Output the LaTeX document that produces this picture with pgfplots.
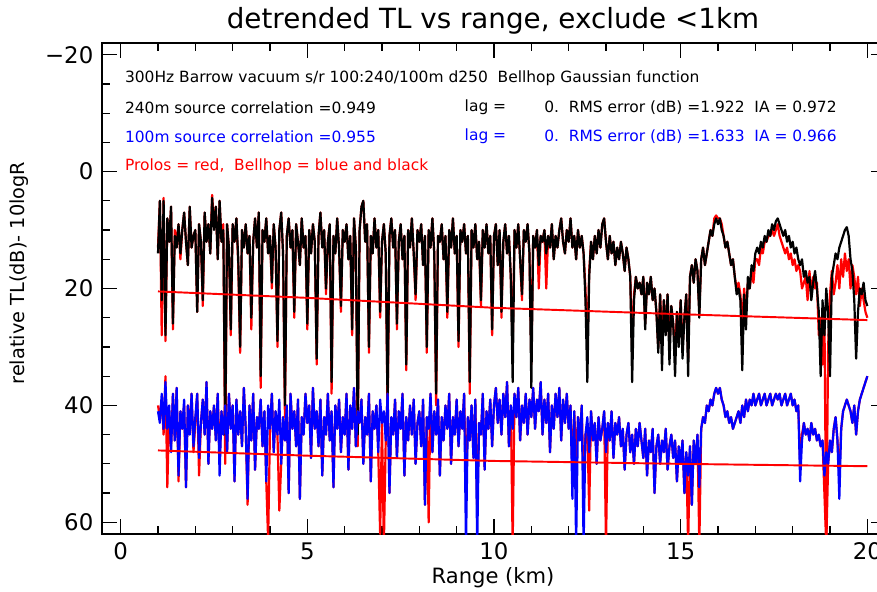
\documentclass[border=0pt]{standalone}
\usepackage{pgfplots}
\usepackage{pgfplotstable}
\pgfplotsset{compat=1.18}
\usepackage{fontspec}
\setmainfont{DejaVu Sans}
\definecolor{pblue}{RGB}{0,0,255}
\definecolor{pred}{RGB}{255,0,0}
\pgfplotstableread{
x B P L Q
1.00 14 13 41 40
1.05 5 5 43 42
1.10 22 28 38 39
1.15 5 4.5 44 45
1.20 28 29 36 35
1.25 8 8 44 54
1.30 12 12 40 41
1.35 6 6 48 47
1.40 26 27 38 38
1.45 11 10 46 46
1.50 13 12 37 37
1.55 9 9 52 53
1.60 14 15 41 41
1.65 10 10 44 44
1.70 7 7 39 40
1.75 12 12 54 54
1.80 16 16 40 40
1.85 6 6 45 44
1.90 13 13 38 38
1.95 11 11 47 48
2.00 10 10 42 43
2.05 24 24 38 38
2.10 9 9 49 52
2.15 12 12 43 43
2.20 22 23 39 39
2.25 7 7 45 45
2.30 12 12 36 36
2.35 9 9 50 50
2.40 14 14 41 41
2.45 4.5 4 44 44
2.50 10 9 40 40
2.55 6 6 46 46
2.60 15 15 38 38
2.65 5 5 52 50
2.70 12 12 41 41
2.75 10 9 45 45
2.80 45 50 40 40
2.85 9 9 48 48
2.90 13 13 38 38
2.95 27 28 44 44
3.00 9 9 40 40
3.05 12 12 53 53
3.10 8 8 39 39
3.15 15 16 45 45
3.20 30 31 41 41
3.25 10 10 47 47
3.30 13 13 37 37
3.35 9 9 44 44
3.40 14 14 56 57
3.45 11 11 40 40
3.50 25 27 46 46
3.55 12 12 38 38
3.60 8 8 51 51
3.65 13 13 42 42
3.70 7 7 44 44
3.75 35 37 39 39
3.80 10 10 47 47
3.85 12 12 41 41
3.90 8 8 53 53
3.95 14 14 40 63
4.00 11 11 44 44
4.05 19 20 38 38
4.10 9 9 48 48
4.15 13 13 41 41
4.20 29 30 45 45
4.25 10 10 39 58
4.30 7 7 50 50
4.35 14 14 42 42
4.40 40 42 46 46
4.45 11 11 40 40
4.50 8 8 55 55
4.55 13 13 38 38
4.60 10 10 44 44
4.65 24 25 41 41
4.70 9 9 47 47
4.75 12 12 39 39
4.80 16 16 56 56
4.85 8 8 42 42
4.90 13 13 45 45
4.95 11 11 38 38
5.00 26 27 43 43
5.05 10 10 40 40
5.10 14 14 49 49
5.15 9 9 37 37
5.20 12 12 44 44
5.25 32 33 41 41
5.30 11 11 47 47
5.35 7 7 39 39
5.40 13 13 52 52
5.45 10 10 42 42
5.50 20 21 45 45
5.55 12 12 38 38
5.60 9 9 46 46
5.65 36 38 41 41
5.70 11 11 54 54
5.75 14 14 40 40
5.80 8 8 44 44
5.85 13 13 39 39
5.90 23 24 48 48
5.95 10 10 42 42
6.00 12 12 45 45
6.05 9 9 38 38
6.10 15 15 51 51
6.15 11 11 40 40
6.20 27 28 44 44
6.25 8 8 37 37
6.30 13 13 47 47
6.35 45 47 41 41
6.40 10 10 43 43
6.45 6 6 39 39
6.50 5 5 50 50
6.55 12 12 42 42
6.60 9 9 45 45
6.65 30 31 38 38
6.70 11 11 53 53
6.75 14 14 41 41
6.80 8 8 44 44
6.85 13 13 40 40
6.90 10 10 48 48
6.95 24 25 39 62
7.00 12 12 43 43
7.05 9 9 41 64
7.10 14 14 46 46
7.15 40 42 38 38
7.20 11 11 55 55
7.25 8 8 42 42
7.30 13 13 45 45
7.35 10 10 39 39
7.40 26 27 49 49
7.45 12 12 41 41
7.50 9 9 44 44
7.55 15 15 38 38
7.60 11 11 52 52
7.65 33 34 42 42
7.70 10 10 46 46
7.75 13 13 40 40
7.80 8 8 45 45
7.85 14 14 39 39
7.90 21 22 50 50
7.95 10 10 43 43
8.00 12 12 41 41
8.05 9 9 47 47
8.10 16 16 39 39
8.15 11 11 57 57
8.20 30 31 42 42
8.25 10 10 44 60
8.30 13 13 38 38
8.35 8 8 48 48
8.40 14 14 41 41
8.45 38 40 45 45
8.50 11 11 39 39
8.55 12 12 52 52
8.60 9 9 42 42
8.65 15 15 46 46
8.70 11 11 40 40
8.75 24 25 44 44
8.80 10 10 38 38
8.85 13 13 50 50
8.90 8 8 42 42
8.95 14 14 45 45
9.00 11 11 39 39
9.05 29 30 47 47
9.10 10 10 41 41
9.15 12 12 44 44
9.20 9 9 38 38
9.25 14 14 64 55
9.30 11 11 42 42
9.35 36 38 46 46
9.40 10 10 40 40
9.45 13 13 49 49
9.50 9 9 39 39
9.55 15 15 64 58
9.60 12 12 43 43
9.65 22 23 45 45
9.70 10 10 38 38
9.75 13 13 51 51
9.80 9 9 41 41
9.85 14 14 44 44
9.90 11 11 39 39
9.95 27 28 47 47
10.00 11 11 40 40
10.05 9 9 37 37
10.10 16 16 43 43
10.15 10 10 39 39
10.20 24 25 45 45
10.25 12 12 38 38
10.30 9 9 42 42
10.35 14 14 36 36
10.40 11 11 47 47
10.45 18 18 40 40
10.50 36 30 44 64
10.55 10 10 38 38
10.60 13 13 42 42
10.65 9 9 37 37
10.70 15 15 46 46
10.75 21 22 40 40
10.80 10 10 43 43
10.85 12 12 38 38
10.90 9 9 45 45
10.95 14 14 39 39
11.00 37 33 42 42
11.05 11 11 37 37
11.10 13 13 44 44
11.15 10 10 39 39
11.20 16 20 41 41
11.25 11 11 36 36
11.30 12 12 45 45
11.35 10 10 39 39
11.40 14 20 43 43
11.45 11 11 38 38
11.50 13 13 48 48
11.55 9 9 40 40
11.60 15 15 44 44
11.65 11 11 38 38
11.70 13 13 42 42
11.75 10 10 37 37
11.80 8 8 46 46
11.85 12 12 39 39
11.90 14 14 43 43
11.95 10 10 38 38
12.00 12 12 44 44
12.05 8 8 40 40
12.10 13 13 56 52
12.15 11 11 41 41
12.20 15 15 64 50
12.25 10 10 42 42
12.30 13 13 46 46
12.35 11 11 40 40
12.40 14 14 64 54
12.45 22 20 45 45
12.50 36 30 42 44
12.55 18 17 48 58
12.60 12 12 41 41
12.65 15 15 46 46
12.70 11 11 43 43
12.75 14 14 50 50
12.80 10 10 42 42
12.85 13 13 46 46
12.90 9 9 44 44
12.95 8 8 41 41
13.00 12 12 48 64
13.05 15 15 43 43
13.10 11 11 46 46
13.15 14 14 41 41
13.20 12 12 49 49
13.25 16 16 43 43
13.30 13 13 45 45
13.35 15 15 42 42
13.40 12 12 47 47
13.45 14 14 44 44
13.50 17 17 51 51
13.55 13 13 45 45
13.60 15 15 43 43
13.65 18 18 48 48
13.70 36 30 45 45
13.75 22 21 50 50
13.80 18 18 44 44
13.85 20 20 47 47
13.90 19 19 43 43
13.95 21 21 46 46
14.00 18 18 49 49
14.05 27 26 44 44
14.10 19 19 52 52
14.15 21 21 46 46
14.20 18 18 48 48
14.25 22 22 44 44
14.30 20 20 55 55
14.35 24 24 47 47
14.40 31 30 45 45
14.45 21 21 50 50
14.50 34 29 46 46
14.55 22 22 48 48
14.60 28 27 44 44
14.65 21 21 51 51
14.70 33 30 47 47
14.75 23 23 45 45
14.80 26 26 49 49
14.85 35 31 46 46
14.90 24 24 53 53
14.95 30 29 47 47
15.00 22 22 50 50
15.05 32 30 46 46
15.10 25 25 55 55
15.15 21 21 48 48
15.20 35 32 52 64
15.25 18 18 47 47
15.30 16 16 57 57
15.35 19 19 46 46
15.40 15 15 50 50
15.45 17 17 45 45
15.50 25 24 54 64
15.55 15 15 44 44
15.60 13 13 42 42
15.65 16 16 43 43
15.70 14 14 40 40
15.75 12 12 41 41
15.80 10 10 39 39
15.85 11 11 40 40
15.90 9 8 38 38
15.95 8 7.5 37 37
16.00 9 8 38 38
16.05 8 8 37 37
16.10 10 9 39 39
16.15 11 11 40 40
16.20 13 13 42 42
16.25 12 12 41 41
16.30 14 14 43 43
16.35 16 16 42 42
16.40 15 15 44 44
16.45 18 18 43 43
16.50 21 20 42 42
16.55 20 19 41 41
16.60 22 21 43 43
16.65 34 26 40 40
16.70 21 20 42 42
16.75 27 24 39 39
16.80 18 19 41 41
16.85 20 20 39 39
16.90 16 17 40 40
16.95 17 19 38 38
17.00 14 15 40 40
17.05 13 15 39 39
17.10 14 16 38 38
17.15 12 13 40 40
17.20 13 14 39 39
17.25 11 12 38 38
17.30 12 12 40 40
17.35 10 11 39 39
17.40 11 11 38 38
17.45 9 10 40 40
17.50 10 11 39 39
17.55 8.5 10 38 38
17.60 8 9 39 39
17.65 9 11 38 38
17.70 10 12 40 40
17.75 11 13 39 39
17.80 10 14 38 38
17.85 12 13 40 40
17.90 11 15 39 39
17.95 13 14 38 38
18.00 12 16 40 40
18.05 14 15 39 39
18.10 13 17 41 41
18.15 15 16 40 40
18.20 16 17 53 50
18.25 15 20 46 45
18.30 18 19 43 43
18.35 17 18 45 45
18.40 19 22 44 44
18.45 18 17 46 46
18.50 22 21 43 43
18.55 19 18 45 45
18.60 17 20 44 44
18.65 20 19 46 46
18.70 24 28 45 45
18.75 35 25 47 47
18.80 22 33 46 46
18.85 28 24 52 55
18.90 20 64 48 64
18.95 24 30 50 50
19.00 35 21 46 46
19.05 18 17 48 48
19.10 16 21 44 44
19.15 14 19 42 42
19.20 15 16 46 46
19.25 13 20 56 52
19.30 12 15 44 44
19.35 11 18 41 41
19.40 10 14 40 40
19.45 9.5 17 39 39
19.50 11 15 40 40
19.55 15 20 41 41
19.60 17 16 43 43
19.65 22 18 40 40
19.70 32 21 45 45
19.75 24 18 41 41
19.80 20 23 39 39
19.85 21 20 38 38
19.90 19 22 37 37
19.95 22 24 36 36
20.00 23 25 35 35
}\data
\begin{document}
\begin{tikzpicture}
\begin{axis}[
  at={(2.04cm,1.14cm)}, anchor=south west,
  scale only axis, width=15.68cm, height=9.82cm,
  xmin=-0.5, xmax=20.5, ymin=-22, ymax=62,
  y dir=reverse,
  xtick={0,5,10,15,20},
  ytick={-20,0,20,40,60},
  yticklabels={−20,0,20,40,60},
  minor x tick num=4, minor y tick num=3,
  tick align=inside,
  major tick length=0.3cm, minor tick length=0.16cm,
  axis line style={line width=0.8pt},
  every tick/.style={black, line width=0.7pt},
  /pgf/number format/assume math mode=true,
  tick label style={font=\fontsize{13}{15}\selectfont},
  xticklabel style={yshift=-0.05cm},
  yticklabel style={xshift=-0.05cm},
  clip=true,
]
\addplot[pred, line width=1.25pt, line join=round] table[x=x,y=P]{\data};
\addplot[black, line width=1.25pt, line join=round] table[x=x,y=B]{\data};
\addplot[pred, line width=1.25pt, line join=round] table[x=x,y=Q]{\data};
\addplot[pblue, line width=1.25pt, line join=round] table[x=x,y=L]{\data};
\addplot[pred, line width=1.1pt] coordinates {(1,20.5) (5,21.6) (10,23.3) (15,24.4) (20,25.4)};
\addplot[pred, line width=1.1pt] coordinates {(1,47.7) (5,48.6) (10,49.5) (15,50.0) (20,50.4)};
\node[anchor=west, font=\fontsize{8.8}{11}\selectfont] at (axis cs:-0.05,-16) {300Hz Barrow vacuum s/r 100:240/100m d250\ \ Bellhop Gaussian function};
\node[anchor=west, font=\fontsize{8.8}{11}\selectfont] at (axis cs:-0.05,-11) {240m source correlation =0.949};
\node[anchor=west, font=\fontsize{8.8}{11}\selectfont] at (axis cs:9.05,-11) {lag =};
\node[anchor=west, font=\fontsize{8.8}{11}\selectfont] at (axis cs:11.18,-11) {0.\ \ RMS error (dB) =1.922\ \ IA = 0.972};
\node[anchor=west, font=\fontsize{8.8}{11}\selectfont, text=pblue] at (axis cs:-0.05,-6) {100m source correlation =0.955};
\node[anchor=west, font=\fontsize{8.8}{11}\selectfont, text=pblue] at (axis cs:9.05,-6) {lag =};
\node[anchor=west, font=\fontsize{8.8}{11}\selectfont, text=pblue] at (axis cs:11.18,-6) {0.\ \ RMS error (dB) =1.633\ \ IA = 0.966};
\node[anchor=west, font=\fontsize{8.8}{11}\selectfont, text=pred] at (axis cs:-0.05,-1) {Prolos = red,\ \ Bellhop = blue and black};
\end{axis}
\node[font=\fontsize{15.8}{18}\selectfont] at (9.86cm,11.40cm) {detrended TL vs range, exclude <1km};
\node[font=\fontsize{12}{14}\selectfont] at (9.86cm,0.27cm) {Range (km)};
\node[font=\fontsize{11}{13}\selectfont, rotate=90] at (0.38cm,6.36cm) {relative TL(dB)- 10logR};
\pgfresetboundingbox
\useasboundingbox (0,0) rectangle (17.54cm,11.82cm);
\end{tikzpicture}
\end{document}
